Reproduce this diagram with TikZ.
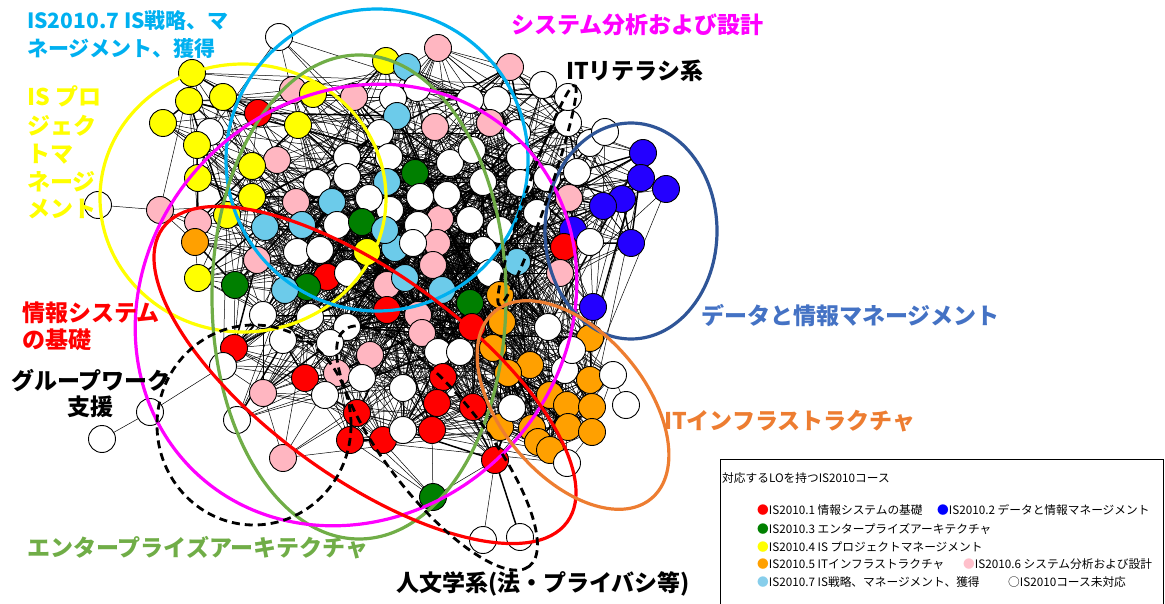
\documentclass[tikz,border=0pt]{standalone}
\usepackage{fontspec}
\setmainfont{Noto Sans CJK JP}
\usetikzlibrary{calc}
\pgfdeclarelayer{bg}
\pgfsetlayers{bg,main}
\definecolor{cR}{HTML}{FF0000}
\definecolor{cB}{HTML}{2400FF}
\definecolor{cG}{HTML}{007F00}
\definecolor{cY}{HTML}{FFFF00}
\definecolor{cO}{HTML}{FFA000}
\definecolor{cP}{HTML}{FFB6C1}
\definecolor{cL}{HTML}{6CCBEA}
\definecolor{cW}{HTML}{FFFFFF}
\definecolor{ecyan}{HTML}{00B0F0}
\definecolor{eyellow}{HTML}{FFFF00}
\definecolor{egreen}{HTML}{70AD47}
\definecolor{emag}{HTML}{FF00FF}
\definecolor{ered}{HTML}{FF0000}
\definecolor{eblue}{HTML}{2F5597}
\definecolor{tblue}{HTML}{4472C4}
\definecolor{eorange}{HTML}{ED7D31}
\definecolor{lgG}{HTML}{008000}
\definecolor{lgB}{HTML}{0000FF}
\definecolor{lgO}{HTML}{FFA000}
\definecolor{lgP}{HTML}{FFC0CB}
\definecolor{lgL}{HTML}{87CEEB}
\begin{document}
\begin{tikzpicture}[x=1pt,y=-1pt,
  nd/.style={circle,draw=black,line width=0.9pt,minimum size=27pt,inner sep=0pt},
  edge/.style={line width=0.5pt,black},
  thick edge/.style={line width=1.5pt,black},
  ring/.style={line width=3.2pt},
  dring/.style={line width=2.8pt,black,dash pattern=on 8pt off 5pt},
  lab/.style={inner sep=0pt,anchor=base west,font=\bfseries\fontsize{23}{27}\selectfont},
  labs/.style={inner sep=0pt,anchor=base west,font=\bfseries\fontsize{21}{25}\selectfont},
  leg/.style={inner sep=0pt,anchor=base west,font=\fontsize{11.7}{13}\selectfont}]
\useasboundingbox (0,0) rectangle (1165,604);
\pgfmathsetseed{11}
% ---------- nodes ----------
\foreach \x/\y/\c/\w [count=\i] in {
279/37/W/0.5, 192/73/Y/0.8, 189/101/Y/0.8, 223/97/Y/1, 163/123/Y/0.6, 210/132/W/1, 258/113/R/1, 197/145/Y/1, 198/178/Y/1, 293/90/P/1,
313/94/Y/1, 354/97/P/1, 298/125/Y/1, 386/61/Y/1, 407/67/L/1, 438/48/P/1, 417/88/W/1, 393/98/W/1, 397/116/L/1, 435/127/P/1,
380/133/W/1, 389/157/W/1.2, 277/160/P/1, 252/166/Y/1, 347/157/W/1.2, 317/183/W/1.2, 347/177/W/1.2, 415/173/G/1.2, 387/182/L/1.2, 390/210/W/1.3,
420/197/W/1.3, 160/210/P/0.4, 98/205/W/0, 296/202/P/1.2, 332/202/L/1.2, 369/198/W/1.3, 252/197/Y/1, 198/222/P/0.8, 227/215/Y/1, 195/242/O/0.8,
265/227/L/1.2, 302/225/L/1.3, 337/225/W/1.3, 362/222/G/1.3, 395/248/L/1.4, 385/230/L/1.4, 440/219/P/1.4, 437/243/P/1.4, 433/265/P/1.4, 297/252/W/1.3,
320/250/W/1.3, 257/260/P/1.1, 367/252/Y/1.4, 327/277/R/1.3, 198/278/Y/0.8, 235/285/G/1, 307/287/G/1.3, 285/290/L/1.2, 348/273/W/1.4, 387/285/P/1.4,
405/278/L/1.4, 418/225/W/1.4, 470/220/W/1.5, 500/230/W/1.5, 413/243/W/1.4, 483/250/W/1.5, 490/273/W/1.5, 517/262/L/1.5, 537/213/W/1.4, 442/290/L/1.5,
470/303/G/1.5, 500/295/O/1.6, 387/310/R/1.4, 418/315/P/1.5, 422/333/P/1.5, 472/327/R/1.6, 263/315/W/1, 310/317/W/1.2, 347/327/W/1.3, 330/343/W/1.2,
283/340/W/1.1, 370/355/P/1.3, 438/352/W/1.5, 460/352/W/1.5, 502/322/O/1.6, 493/348/O/1.6, 530/365/O/1.5, 508/373/O/1.5, 548/327/W/1.4, 305/378/R/1.1,
337/373/P/1.2, 362/378/W/1.3, 403/388/W/1.3, 443/377/R/1.4, 325/395/W/1.1, 263/393/P/0.9, 357/413/R/1.2, 437/403/R/1.3, 473/407/R/1.3, 350/440/R/1.1,
383/440/R/1.1, 403/430/W/1.2, 432/430/R/1.2, 500/427/O/1.3, 532/428/O/1.3, 283/458/P/0.6, 234/348/R/0.9, 223/366/W/0.7, 237/420/W/0.6, 150/412/W/0,
102/439/W/0, 495/460/R/0.8, 433/497/G/0, 483/540/W/0, 520/537/W/0, 590/338/O/1.2, 593/307/B/1, 565/370/W/1.2, 572/350/W/1.2, 590/380/O/1.2,
613/375/W/0.6, 626/405/W/0, 550/395/O/1.3, 567/405/O/1.2, 592/407/O/1.1, 568/427/O/1.1, 592/432/O/1, 538/442/O/1.1, 550/450/O/1, 567/463/W/0.5,
512/408/W/1.2, 643/153/B/0.9, 641/178/B/0.9, 666/189/B/0.8, 622/199/B/0.9, 603/206/B/1, 631/243/B/0.9, 573/230/B/1.1, 564/247/R/1.2, 590/242/W/1.1,
560/273/P/1.3, 569/198/P/1.2, 577/172/W/1.1, 590/143/W/1, 605/132/W/0.9, 568/123/W/1, 568/97/W/0.9, 543/85/W/0.9, 510/67/P/1, 470/100/W/1.1,
497/100/W/1.1, 490/123/P/1.2, 517/133/W/1.2, 450/163/W/1.3, 472/150/W/1.3, 520/157/W/1.3, 447/195/W/1.4, 483/182/W/1.4, 520/183/W/1.4, 547/178/W/1.3}
{
  \node[nd,fill=c\c] (n\i) at (\x,\y) {};
  \expandafter\xdef\csname nx\i\endcsname{\x}
  \expandafter\xdef\csname ny\i\endcsname{\y}
  \expandafter\xdef\csname nw\i\endcsname{\w}
  \xdef\N{\i}
}
% ---------- connectors ----------
\begin{pgfonlayer}{bg}
\foreach \i in {1,...,\N}{
  \foreach \j in {\i,...,\N}{
    \ifnum\j>\i
      \pgfmathsetmacro\dd{veclen(\csname nx\i\endcsname-\csname nx\j\endcsname,\csname ny\i\endcsname-\csname ny\j\endcsname)}
      \pgfmathsetmacro\pp{(\dd<50 ? 0.6 : (\dd<100 ? 0.33 : (\dd<170 ? 0.15 : (\dd<260 ? 0.06 : 0.014))))*\csname nw\i\endcsname*\csname nw\j\endcsname}
      \pgfmathsetmacro\rr{rnd}
      \ifdim\rr pt<\pp pt
        \pgfmathsetmacro\tt{rnd}
        \ifdim\tt pt<0.07pt
          \draw[thick edge] (n\i.center) -- (n\j.center);
        \else
          \draw[edge] (n\i.center) -- (n\j.center);
        \fi
      \fi
    \fi
  }
}
\draw[edge] (n33.center) -- (n32.center);
\draw[edge] (n111.center) -- (n110.center);
\draw[edge] (n110.center) -- (n108.center);
\draw[edge] (n122.center) -- (n121.center);
\draw[edge] (n114.center) -- (n112.center);
\draw[thick edge] (n115.center) -- (n112.center);
\draw[edge] (n113.center) -- (n112.center);
\draw[edge] (n113.center) -- (n100.center);
\draw[edge] (n113.center) -- (n103.center);
\draw[edge] (n113.center) -- (n97.center);
\draw[edge] (n113.center) -- (n90.center);
\draw[edge] (n130.center) -- (n129.center);
\draw[edge] (n130.center) -- (n127.center);
\end{pgfonlayer}
% ---------- group outlines ----------
\draw[ring,eyellow] (243,198) ellipse [x radius=143, y radius=134];
\draw[ring,ecyan] (377,160) ellipse [x radius=151, y radius=151];
\draw[ring,egreen] (359,297) ellipse [x radius=147, y radius=242];
\draw[ring,emag,rotate around={45:(356,305)}] (356,305) ellipse [x radius=232, y radius=209];
\draw[ring,ered,rotate around={-36:(365,375)}] (365,375) ellipse [x radius=250, y radius=102];
\draw[ring,eblue] (631,231) ellipse [x radius=86, y radius=108];
\draw[ring,eorange,rotate around={-50:(573,405)}] (573,405) ellipse [x radius=122, y radius=72];
\draw[dring] (254,425) ellipse [x radius=97, y radius=100];
\draw[dring,rotate around={-52:(437,448)}] (437,448) ellipse [x radius=150, y radius=50];
\draw[dring,rotate around={71:(537,195)}] (537,195) ellipse [x radius=116, y radius=11];
% ---------- labels ----------
\node[labs,text=ecyan] (l1a) at (27,29) {IS2010.7 IS戦略、マ};
\node[labs,text=ecyan] (l1b) at (27,57) {ネージメント、獲得};
\node[lab,text=eyellow] (l2a) at (27,106) {IS プロ};
\node[lab,text=eyellow] (l2b) at (27,135) {ジェク};
\node[lab,text=eyellow] (l2c) at (27,163) {トマ};
\node[lab,text=eyellow] (l2d) at (27,191) {ネージ};
\node[lab,text=eyellow] (l2e) at (27,218) {メント};
\node[lab,text=emag] (l3) at (511,34) {システム分析および設計};
\node[lab,text=black] (l4) at (566,80) {ITリテラシ系};
\node[lab,text=tblue] (l5) at (701,324) {データと情報マネージメント};
\node[lab,text=eorange] (l6) at (664,429) {ITインフラストラクチャ};
\node[lab,text=ered] (l7a) at (22,321) {情報システム};
\node[lab,text=ered] (l7b) at (22,348) {の基礎};
\node[lab,text=black] (l8a) at (11,389) {グループワーク};
\node[lab,text=black] (l8b) at (67,415) {支援};
\node[lab,text=egreen] (l9) at (27,556) {エンタープライズアーキテクチャ};
\node[lab,text=black] (l10) at (396,591) {人文学系(法・プライバシ等)};
% ---------- legend ----------
\node[draw=black,line width=1.2pt,minimum width=443pt,minimum height=145pt,inner sep=0pt,anchor=north west] (legend) at (720,458.5) {};
\node[leg] (lg0) at (722,482) {対応するLOを持つIS2010コース};
\node[leg] (lg1) at (757,514) {\textcolor{cR}{●}IS2010.1 情報システムの基礎};
\node[leg] (lg2) at (937,514) {\textcolor{lgB}{●}IS2010.2 データと情報マネージメント};
\node[leg] (lg3) at (757,533) {\textcolor{lgG}{●}IS2010.3 エンタープライズアーキテクチャ};
\node[leg] (lg4) at (757,551) {\textcolor{cY}{●}IS2010.4 IS プロジェクトマネージメント};
\node[leg] (lg5) at (757,568) {\textcolor{lgO}{●}IS2010.5 ITインフラストラクチャ};
\node[leg] (lg6) at (963,568) {\textcolor{lgP}{●}IS2010.6 システム分析および設計};
\node[leg] (lg7) at (757,586) {\textcolor{lgL}{●}IS2010.7 IS戦略、マネージメント、獲得};
\node[leg] (lg8) at (1008,586) {○IS2010コース未対応};
\end{tikzpicture}
\end{document}
